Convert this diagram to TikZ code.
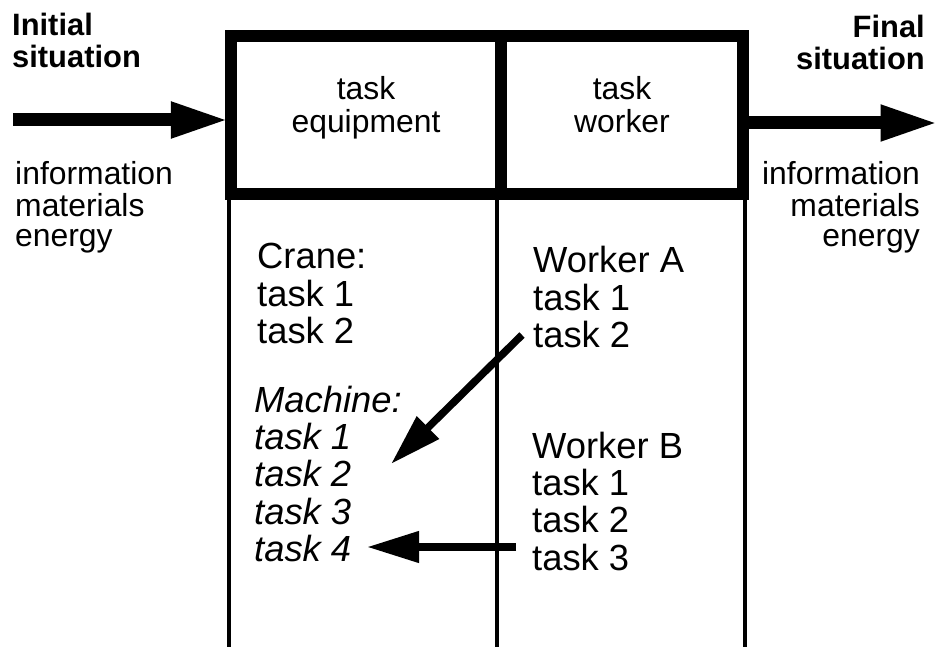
\documentclass[tikz,border=0pt]{standalone}
\usepackage{fontspec}
\setmainfont{Liberation Sans}
\usetikzlibrary{arrows.meta}
\newcommand\mystack[2]{\begin{tabular}[t]{@{}#1@{}}#2\end{tabular}}
\begin{document}
\begin{tikzpicture}[x=1bp,y=-1bp,
  cell/.style={draw, line width=12bp, inner sep=0, minimum height=158bp},
  colline/.style={line width=3.5bp},
  bigarrow/.style={line width=13bp, -{Triangle[length=58bp,width=33bp]}},
  smallarrow/.style={line width=7.5bp, -{Triangle[length=52bp,width=30bp]}},
  headtxt/.style={inner sep=0, font=\fontsize{31}{31}\selectfont\bfseries},
  infotxt/.style={inner sep=0, font=\fontsize{32}{29.5}\selectfont},
  celltxt/.style={inner sep=0, anchor=base, font=\fontsize{32}{33}\selectfont},
  bodytxt/.style={inner sep=0, anchor=base west, font=\fontsize{36.5}{37}\selectfont},
]
\useasboundingbox (0,0) rectangle (939,647);

% top cells
\node[cell, minimum width=270bp] (equip) at (366,115) {};
\node[cell, minimum width=242bp] (worker) at (622,115) {};

% lower columns
\coordinate (l0) at (229,194); \coordinate (l1) at (229,647);
\coordinate (m0) at (497,194); \coordinate (m1) at (497,647);
\coordinate (r0) at (745,194); \coordinate (r1) at (745,647);
\draw[colline] (l0) -- (l1);
\draw[colline] (m0) -- (m1);
\draw[colline] (r0) -- (r1);

% cell labels
\node[celltxt] (equiptxt) at (366,100) {\mystack{c}{task\\equipment}};
\node[celltxt] (workertxt) at (622,100) {\mystack{c}{task\\worker}};

% headings
\node[headtxt, anchor=base west] (init) at (12,36) {\mystack{l}{Initial\\situation}};
\node[headtxt, anchor=base east] (final) at (925,38) {\mystack{r}{Final\\situation}};

% info texts
\node[infotxt, anchor=base west] (infoL) at (15,185) {\mystack{l}{information\\materials\\energy}};
\node[infotxt, anchor=base east] (infoR) at (920,185) {\mystack{r}{information\\materials\\energy}};

% big arrows
\coordinate (inStart) at (13,120);
\coordinate (outEnd) at (938.5,123);
\draw[bigarrow] (inStart) -- ([xshift=4bp]inStart -| equip.west);
\draw[bigarrow] (outEnd -| worker.east) -- (outEnd);

% body texts
\node[bodytxt] (crane) at (257,269) {\mystack{l}{Crane:\\task 1\\task 2}};
\node[bodytxt] (machine) at (254,412) {\itshape\mystack{l}{Machine:\\task 1\\task 2\\task 3\\task 4}};
\node[bodytxt] (wa) at (533,273) {\mystack{l}{Worker A\\task 1\\task 2}};
\node[bodytxt] (wb) at (532,458) {\mystack{l}{Worker B\\task 1\\task 2\\task 3}};

% transfer arrows
\coordinate (a1s) at (522,335);
\coordinate (a1e) at (391,464);
\coordinate (a2s) at (516,547);
\coordinate (a2e) at (367,547);
\draw[smallarrow] (a1s) -- (a1e);
\draw[smallarrow] (a2s) -- (a2e);
\end{tikzpicture}
\end{document}
